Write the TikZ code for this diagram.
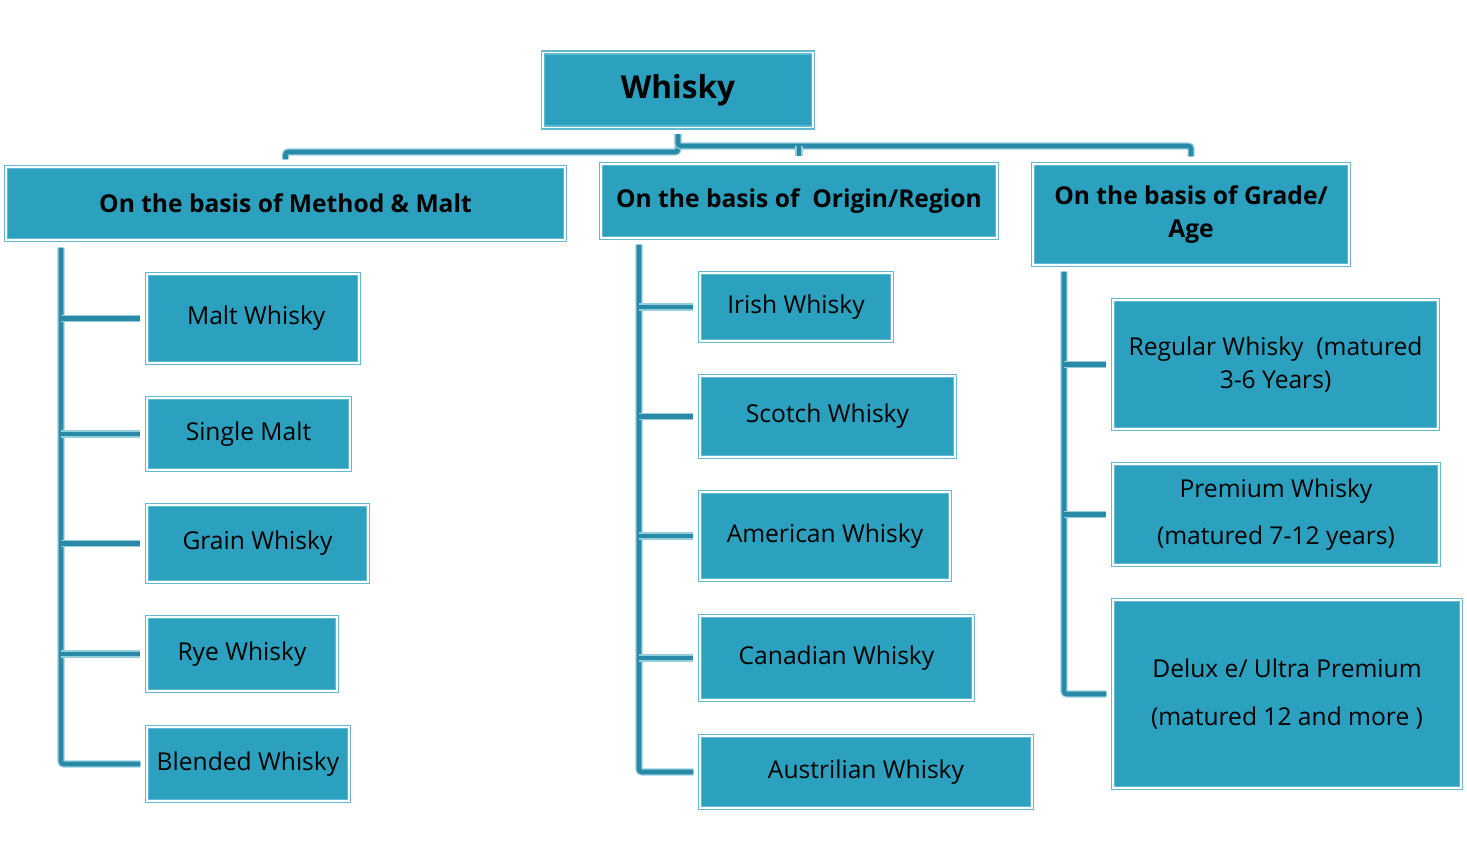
\documentclass[tikz,border=0pt]{standalone}
\usepackage{fontspec}
\setmainfont{Open Sans}
\usetikzlibrary{positioning, calc}
\definecolor{boxteal}{RGB}{44,161,191}
\definecolor{edgeteal}{RGB}{98,186,210}
\definecolor{lineteal}{RGB}{40,138,166}
\definecolor{linelight}{RGB}{150,206,222}
\def\px{0.02cm}
\tikzset{
  box/.style={draw=edgeteal, double=white, double distance=0.9pt, line width=0.7pt,
    fill=boxteal, align=center, inner sep=2pt, font=\fontsize{14}{19}\selectfont},
  headbox/.style={box, font=\bfseries\fontsize{14}{19}\selectfont},
  boxdim/.style 2 args={minimum width=#1*\px, minimum height=#2*\px},
  branch/.style={draw=lineteal, line width=2.6pt, rounded corners=1.5pt,
    preaction={draw=linelight, line width=4pt, rounded corners=1.5pt}},
}
\begin{document}
\begin{tikzpicture}[x=0.02cm, y=-0.02cm]
  \useasboundingbox (0,0) rectangle (1467,862);

  % top and the three headings
  \node[headbox, boxdim={270}{75}, font=\bfseries\fontsize{18}{22}\selectfont] (whisky) at (678,90) {Whisky};
  \node[headbox, boxdim={559}{73}] (method) at (285.5,203.5) {On the basis of Method \& Malt};
  \node[headbox, boxdim={396}{74}] (origin) at (799,201) {On the basis of \ Origin/Region};
  \node[headbox, boxdim={316}{101}] (grade) at (1191,214.5) {On the basis of Grade/\\Age};

  % method & malt
  \node[box, boxdim={212}{89}] (malt) at (253,318.5) {\ Malt Whisky};
  \node[box, boxdim={203}{72}] (single) at (248.5,434) {Single Malt};
  \node[box, boxdim={221}{77}] (grain) at (257.5,543.5) {Grain Whisky};
  \node[box, boxdim={190}{74}] (rye) at (242,654) {Rye Whisky};
  \node[box, boxdim={202}{74}] (blended) at (248,764) {Blended Whisky};

  % origin / region
  \node[box, boxdim={192}{68}] (irish) at (796,307) {Irish Whisky};
  \node[box, boxdim={255}{81}] (scotch) at (827.5,416.5) {Scotch Whisky};
  \node[box, boxdim={250}{88}] (american) at (825,536) {American Whisky};
  \node[box, boxdim={273}{84}] (canadian) at (836.5,658) {Canadian Whisky};
  \node[box, boxdim={332}{72}] (austrilian) at (866,772) {Austrilian Whisky};

  % grade / age
  \node[box, boxdim={325}{129}] (regular) at (1275.5,364.5) {Regular Whisky \ (matured\\3-6 Years)};
  \node[box, boxdim={326}{101}, font=\fontsize{14}{27}\selectfont] (premium) at (1276,514.5) {Premium Whisky\\(matured 7-12 years)};
  \node[box, boxdim={348}{188}, font=\fontsize{14}{27}\selectfont] (delux) at (1287,694) {Delux e/ Ultra Premium\\(matured 12 and more )};

  % connectors from the top
  \coordinate (forkL) at (678,152);
  \coordinate (forkR) at (678,146);
  \draw[branch, shorten >=7*\px] ([yshift=-6*\px]whisky.south) -- (forkL) -| (method.north);
  \draw[branch, shorten >=7*\px] ([yshift=-6*\px]whisky.south) -- (forkR) -| (grade.north);
  \draw[branch, shorten >=7*\px] (forkR -| origin.north) -- (origin.north);

  % spines
  \coordinate (spineL) at (61,0);
  \coordinate (spineM) at (639,0);
  \coordinate (spineR) at (1064,0);

  \draw[branch, shorten >=6*\px] ([yshift=-7*\px]method.south -| spineL) -- (spineL |- blended) -- (blended.west);
  \foreach \n in {malt, single, grain, rye}
    \draw[branch, shorten >=6*\px] (spineL |- \n) -- (\n.west);

  \draw[branch, shorten >=6*\px] ([yshift=-6*\px]origin.south -| spineM) -- (spineM |- austrilian) -- (austrilian.west);
  \foreach \n in {irish, scotch, american, canadian}
    \draw[branch, shorten >=6*\px] (spineM |- \n) -- (\n.west);

  \draw[branch, shorten >=6*\px] ([yshift=-6*\px]grade.south -| spineR) -- (spineR |- delux) -- (delux.west);
  \foreach \n in {regular, premium}
    \draw[branch, shorten >=6*\px] (spineR |- \n) -- (\n.west);
\end{tikzpicture}
\end{document}
